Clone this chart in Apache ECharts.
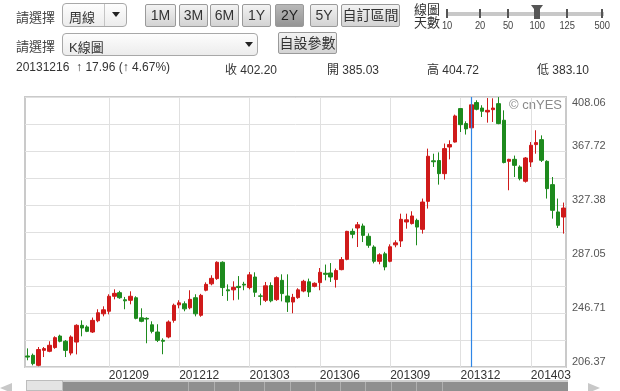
<!DOCTYPE html>
<html><head><meta charset="utf-8">
<script src="https://cdn.jsdelivr.net/npm/echarts@6.0.0/dist/echarts.min.js"></script>
<style>
html,body{margin:0;padding:0;background:#fff;}
#wrap{position:relative;width:620px;height:391px;overflow:hidden;font-family:Arial,"Liberation Sans","Noto Sans CJK TC",sans-serif;color:#333;}
#chart{position:absolute;left:0;top:0;width:620px;height:391px;}
.t{position:absolute;white-space:nowrap;font-size:13px;}
.sel{position:absolute;box-sizing:border-box;border:1px solid #a8a8a8;border-radius:4px;background:linear-gradient(#fdfdfd,#ececec);font-size:13px;}
.sel .lab{position:absolute;left:6px;top:3px;}
.sel .arr{position:absolute;top:8px;width:0;height:0;border-left:4px solid transparent;border-right:4px solid transparent;border-top:5px solid #222;}
.sel .sep{position:absolute;top:0;bottom:0;width:1px;background:#c4c4c4;}
.btn{position:absolute;box-sizing:border-box;border:1px solid #9a9a9a;border-radius:2px;background:linear-gradient(#f3f3f3,#d3d3d3);font-size:14px;text-align:center;color:#333;}
.btn.on{background:linear-gradient(#b8b8b8,#959595);color:#222;}
.tk{position:absolute;top:9px;width:2px;height:9px;background:#555;}
.tl{position:absolute;top:19px;font-size:11px;color:#444;transform:scaleX(0.85);transform-origin:center;}
</style></head>
<body>
<div id="wrap">
<div id="chart"></div>
<!-- header row 1 -->
<div class="t" style="left:16px;top:7px;color:#444;">請選擇</div>
<div class="sel" style="left:62px;top:3px;width:65px;height:24px;"><span class="lab">周線</span><span class="sep" style="left:41px;"></span><span class="arr" style="left:49px;"></span></div>
<div class="btn" style="left:145px;top:4px;width:31px;height:23px;line-height:21px;">1M</div>
<div class="btn" style="left:179px;top:4px;width:29px;height:23px;line-height:21px;">3M</div>
<div class="btn" style="left:210px;top:4px;width:29px;height:23px;line-height:21px;">6M</div>
<div class="btn" style="left:242px;top:4px;width:29px;height:23px;line-height:21px;">1Y</div>
<div class="btn on" style="left:275px;top:4px;width:29px;height:23px;line-height:21px;">2Y</div>
<div class="btn" style="left:310px;top:4px;width:28px;height:23px;line-height:21px;">5Y</div>
<div class="btn" style="left:341px;top:4px;width:59px;height:23px;line-height:21px;">自訂區間</div>
<div class="t" style="left:414px;top:3px;font-size:13px;line-height:13px;">線圖<br>天數</div>
<div style="position:absolute;left:447px;top:12px;width:157px;height:4px;background:#c8c8c8;"></div>
<div class="tk" style="left:446px;"></div><div class="tk" style="left:479px;"></div><div class="tk" style="left:507px;"></div><div class="tk" style="left:536px;"></div><div class="tk" style="left:566px;"></div><div class="tk" style="left:601px;"></div>
<div style="position:absolute;left:531px;top:5px;width:0;height:0;border-left:6px solid transparent;border-right:6px solid transparent;border-top:8px solid #555;"></div>
<div style="position:absolute;left:534px;top:9px;width:6px;height:10px;background:#555;"></div>
<div class="tl" style="left:441px;">10</div><div class="tl" style="left:474px;">20</div><div class="tl" style="left:502px;">50</div><div class="tl" style="left:528px;">100</div><div class="tl" style="left:558px;">125</div><div class="tl" style="left:593px;">500</div>
<!-- header row 2 -->
<div class="t" style="left:16px;top:36px;color:#444;">請選擇</div>
<div class="sel" style="left:62px;top:33px;width:196px;height:23px;"><span class="lab">K線圖</span><span class="arr" style="left:182px;"></span></div>
<div class="btn" style="left:278px;top:32px;width:59px;height:22px;line-height:20px;">自設參數</div>
<!-- header row 3 -->
<div class="t" style="left:16px;top:60px;font-size:12px;">20131216 &nbsp;↑ 17.96 (↑ 4.67%)</div>
<div class="t" style="left:225px;top:60px;font-size:12px;">收 402.20</div>
<div class="t" style="left:327px;top:60px;font-size:12px;">開 385.03</div>
<div class="t" style="left:427px;top:60px;font-size:12px;">高 404.72</div>
<div class="t" style="left:537px;top:60px;font-size:12px;">低 383.10</div>
<!-- bottom scrollbar -->
<div style="position:absolute;left:0px;top:383px;width:0;height:0;border-top:5px solid transparent;border-bottom:5px solid transparent;border-right:12px solid #c8c8c8;"></div>
<div style="position:absolute;left:26px;top:380px;width:542px;height:11px;background:#8f8f8f;border-top:2px solid #cfcfcf;box-sizing:border-box;"></div>
<div style="position:absolute;left:26px;top:380px;width:37px;height:11px;background:#e4e4e4;border:1px solid #bdbdbd;box-sizing:border-box;"></div>
<div id="segs"></div>
<div style="position:absolute;left:588px;top:383px;width:0;height:0;border-top:5px solid transparent;border-bottom:5px solid transparent;border-left:12px solid #c8c8c8;"></div>
</div>
<script>
// ---- data ----
var startWeek = '2012-05-21';
var opens  = [214.6,215.1,207.6,218.8,218.1,220.9,229.5,225.6,216.8,225.0,237.5,236.3,232.5,240.9,246.1,248.0,259.2,261.9,256.6,256.2,
              258.1,243.1,242.7,237.9,232.5,226.3,228.8,241.2,252.8,253.6,250.6,258.1,245.0,263.7,268.5,272.4,284.6,264.0,264.0,266.6,
              268.2,265.7,273.6,259.5,256.2,267.2,256.7,271.1,259.4,254.9,258.2,263.1,270.0,266.6,269.4,276.4,276.6,271.7,279.1,286.8,
              307.7,310.2,311.7,304.0,296.0,285.3,290.9,285.3,297.6,300.5,314.7,313.5,315.9,309.2,330.1,360.4,360.6,350.8,370.7,374.4,
              399.4,388.2,385.03,403.9,399.8,396.9,398.6,403.1,390.7,360.0,361.5,355.8,345.1,359.5,372.5,376.2,360.0,342.6,322.2,318.4];
var closes = [213.8,208.9,219.4,220.1,222.6,228.3,225.6,218.8,228.8,237.5,235.5,233.0,241.2,246.9,249.1,259.2,261.4,258.1,255.8,259.2,
              242.7,240.5,242.2,233.0,226.3,225.6,240.0,252.5,254.3,249.8,256.9,246.1,259.9,268.1,272.6,284.6,265.7,263.3,265.9,265.7,
              267.6,275.2,262.2,259.2,267.0,255.8,273.1,261.2,254.9,258.4,264.0,270.4,262.4,268.9,277.1,275.6,273.6,278.4,286.6,307.7,
              305.5,312.6,304.7,297.3,285.3,290.2,281.1,296.2,299.1,316.7,316.3,319.2,310.9,329.6,363.8,359.7,350.8,369.5,372.5,393.9,
              387.4,384.24,402.20,398.9,397.4,398.1,399.8,388.2,359.1,361.5,357.0,347.1,362.5,372.0,374.0,360.8,339.6,323.4,312.2,325.1];
var lows   = [211.4,207.6,206.9,213.8,217.4,220.0,224.8,213.8,215.1,215.8,229.3,232.4,231.8,239.8,244.2,245.7,256.9,257.3,249.5,253.2,
              242.0,239.8,224.1,231.5,225.0,215.9,227.8,239.5,250.2,248.0,249.5,244.2,243.9,262.9,267.4,271.5,259.4,255.8,256.2,256.7,
              263.7,264.4,258.7,252.5,254.9,254.7,255.8,255.4,247.5,246.5,257.3,262.2,258.7,265.9,263.7,271.1,269.9,265.7,278.6,286.1,
              302.5,296.0,299.7,295.4,283.8,283.1,278.6,284.6,295.8,296.0,309.7,312.8,297.3,306.0,324.7,355.8,342.6,346.4,361.5,374.0,
              381.9,380.0,383.10,398.1,393.1,388.9,389.4,387.7,358.5,338.4,348.3,345.8,344.1,355.8,365.7,359.5,332.2,317.2,310.2,306.0];
var highs  = [220.3,216.4,221.3,221.3,225.6,229.3,230.5,226.5,230.0,238.3,241.2,237.5,243.3,249.5,251.7,260.7,264.4,263.3,258.7,262.9,
              259.2,250.2,243.5,240.5,238.3,227.8,241.2,253.7,256.2,255.4,263.7,260.7,261.0,269.6,274.9,285.3,285.3,268.1,270.4,274.3,
              270.0,277.3,277.1,261.2,269.9,269.6,274.1,275.6,275.6,261.0,265.2,271.5,272.4,269.6,280.3,282.9,284.0,279.9,288.5,308.1,
              309.8,314.7,313.5,306.2,297.3,291.3,292.4,298.0,301.0,320.9,320.9,322.7,317.2,332.2,369.5,365.7,366.7,373.3,375.7,394.9,
              399.8,389.9,404.72,405.6,401.9,407.3,407.1,408.0,398.1,361.9,364.3,357.0,363.2,374.4,383.2,379.4,360.8,348.3,332.2,329.2];
var xTickDates  = ['2012-09-03','2012-12-03','2013-03-04','2013-06-03','2013-09-02','2013-12-02','2014-03-03'];
var xTickLabels = ['201209','201212','201303','201306','201309','201312','201403'];
var yTickLabels = ['206.37','246.71','287.05','327.38','367.72','408.06'];
var yMin = 206.37, yMax = 408.06;
var markDate = '2013-12-16';

// weekly category dates
var dates = [];
(function(){
  var d = new Date(startWeek + 'T00:00:00Z');
  for (var i = 0; i < opens.length; i++) {
    var x = new Date(d.getTime() + i * 7 * 86400000);
    dates.push(x.toISOString().slice(0,10));
  }
})();
var ohlc = opens.map(function(o, i){ return [o, closes[i], lows[i], highs[i]]; });

// scrollbar segments (decoration)
(function(){
  var xs=[188,214,239,264,290,315,340,365,391,416,442], h='';
  xs.forEach(function(x){ h+='<div style="position:absolute;left:'+x+'px;top:382px;width:1px;height:9px;background:#b0b0b0;"></div>'; });
  document.getElementById('segs').innerHTML=h;
})();

var yInterval = (yMax - yMin) / 10;
var chart = echarts.init(document.getElementById('chart'), null, {renderer:'canvas'});
chart.setOption({
  animation: false,
  grid: { left: 25, right: 54, top: 97, bottom: 24, show: true, borderColor: '#cacaca', borderWidth: 2, backgroundColor: 'transparent' },
  xAxis: {
    type: 'category', data: dates, boundaryGap: true,
    axisLine: { show: false }, axisTick: { show: false },
    splitLine: { show: true, alignWithLabel: true, interval: function(i, v){ return xTickDates.indexOf(v) >= 0; }, lineStyle: { color: '#e0e0e0', width: 1 } },
    axisLabel: {
      interval: function(i, v){ return xTickDates.indexOf(v) >= 0; },
      formatter: function(v){ var k = xTickDates.indexOf(v); return k >= 0 ? xTickLabels[k] : ''; },
      align: 'left', margin: 3, fontSize: 12, color: '#333', fontFamily: 'Arial'
    }
  },
  yAxis: {
    type: 'value', position: 'right', min: yMin, max: yMax, interval: yInterval, scale: true,
    axisLine: { show: false }, axisTick: { show: false },
    splitLine: { show: true, lineStyle: { color: '#e0e0e0', width: 1 } },
    axisLabel: {
      margin: 6, fontSize: 11, color: '#555', fontFamily: 'Arial', verticalAlign: 'bottom', verticalAlignMaxLabel: 'top',
      formatter: function(v){ var k = Math.round((v - yMin) / yInterval); return (k % 2 === 0) ? (yTickLabels[k/2] || '') : ''; }
    }
  },
  graphic: [{ type: 'text', right: 58, top: 99, style: { text: '© cnYES', fill: '#8a8a8a', font: '13px Arial' }, silent: true }],
  series: [{
    type: 'candlestick', data: ohlc, barWidth: 4,
    itemStyle: { color: '#cf1a1a', color0: '#1d8a1d', borderColor: '#cf1a1a', borderColor0: '#1d8a1d', borderWidth: 1 },
    markLine: { silent: true, symbol: 'none', label: { show: false },
      lineStyle: { color: '#2f86e6', width: 1.2, type: 'solid', opacity: 1 },
      emphasis: { disabled: true },
      data: [{ xAxis: markDate, lineStyle: { color: '#2f86e6', width: 1.2, type: 'solid', opacity: 1 } }] }
  }]
});
</script>
</body></html>
